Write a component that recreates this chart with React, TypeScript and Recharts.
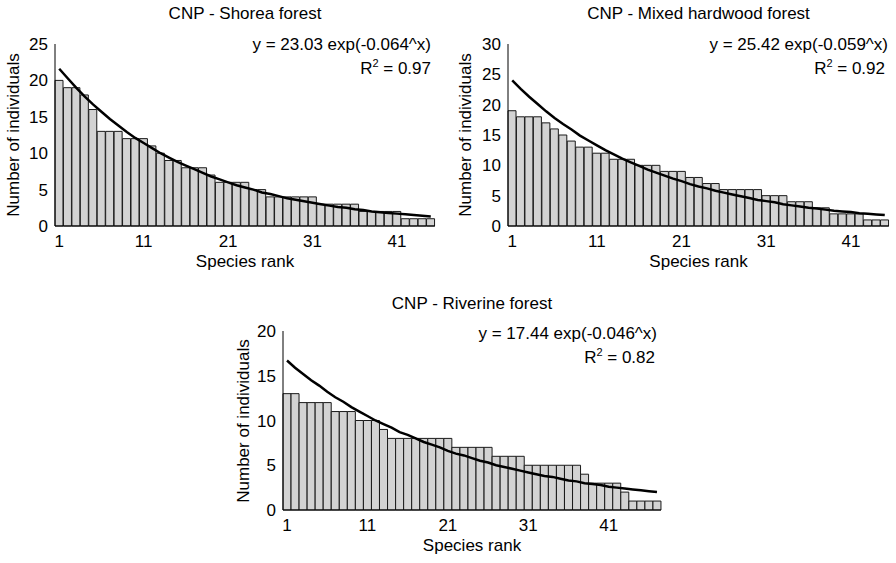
import React from "react";
import { ComposedChart, Bar, Line, XAxis, YAxis } from "recharts";

const ranks = [
  1, 2, 3, 4, 5, 6, 7, 8, 9, 10, 11, 12, 13, 14, 15, 16, 17, 18, 19, 20, 21, 22, 23, 24,
  25, 26, 27, 28, 29, 30, 31, 32, 33, 34, 35, 36, 37, 38, 39, 40, 41, 42, 43, 44, 45, 46, 47,
];
const rankTicks = [1, 11, 21, 31, 41];

const shoreaCounts = [
  20, 19, 19, 18, 16, 13, 13, 13, 12, 12, 12, 11, 10, 9, 9, 8, 8, 8, 7, 6, 6, 6, 6, 5, 5,
  4, 4, 4, 4, 4, 4, 3, 3, 3, 3, 3, 2, 2, 2, 2, 2, 1, 1, 1, 1,
];
const shoreaFit = [
  21.6, 20.3, 19.0, 17.8, 16.7, 15.7, 14.7, 13.8, 12.9, 12.1, 11.4, 10.7, 10.0, 9.4, 8.8,
  8.3, 7.8, 7.3, 6.8, 6.4, 6.0, 5.6, 5.3, 5.0, 4.6, 4.4, 4.1, 3.8, 3.6, 3.4, 3.2, 3.0, 2.8,
  2.6, 2.5, 2.3, 2.2, 2.0, 1.9, 1.8, 1.7, 1.6, 1.5, 1.4, 1.3,
];
const shoreaTicks = [0, 5, 10, 15, 20, 25];

const mixedCounts = [
  19, 18, 18, 18, 17, 16, 15, 14, 13, 13, 12, 12, 11, 11, 11, 10, 10, 10, 9, 9, 9, 8, 8, 7,
  7, 6, 6, 6, 6, 6, 5, 5, 5, 4, 4, 4, 3, 3, 2, 2, 2, 2, 1, 1, 1,
];
const mixedFit = [
  24.0, 22.6, 21.3, 20.1, 18.9, 17.8, 16.8, 15.9, 14.9, 14.1, 13.3, 12.5, 11.8, 11.1, 10.5,
  9.9, 9.3, 8.8, 8.3, 7.8, 7.4, 6.9, 6.5, 6.2, 5.8, 5.5, 5.2, 4.9, 4.6, 4.3, 4.1, 3.9, 3.6,
  3.4, 3.2, 3.0, 2.9, 2.7, 2.5, 2.4, 2.3, 2.1, 2.0, 1.9, 1.8,
];
const mixedTicks = [0, 5, 10, 15, 20, 25, 30];

const riverineCounts = [
  13, 13, 12, 12, 12, 12, 11, 11, 11, 10, 10, 10, 9, 8, 8, 8, 8, 8, 8, 8, 8, 7, 7, 7, 7, 7,
  6, 6, 6, 6, 5, 5, 5, 5, 5, 5, 5, 4, 3, 3, 3, 3, 2, 1, 1, 1, 1,
];
const riverineFit = [
  16.7, 15.9, 15.2, 14.5, 13.9, 13.2, 12.6, 12.1, 11.5, 11.0, 10.5, 10.0, 9.6, 9.2, 8.7,
  8.4, 8.0, 7.6, 7.3, 7.0, 6.6, 6.3, 6.1, 5.8, 5.5, 5.3, 5.0, 4.8, 4.6, 4.4, 4.2, 4.0, 3.8,
  3.7, 3.5, 3.3, 3.2, 3.0, 2.9, 2.8, 2.6, 2.5, 2.4, 2.3, 2.2, 2.1, 2.0,
];
const riverineTicks = [0, 5, 10, 15, 20];

const FONT = '"Liberation Sans", Arial, Helvetica, sans-serif';
const tickStyle = { fontSize: 17, fill: "#000" };

type Plot = { x0: number; x1: number; y0: number; y1: number };

function buildRows(counts: number[], fit: number[]) {
  return counts.map((c, i) => ({ rank: ranks[i], count: c, fit: fit[i] }));
}

function Txt(props: { x: number; y: number; w: number; align: "left" | "center" | "right"; children: React.ReactNode }) {
  const left = props.align === "right" ? props.x - props.w : props.align === "center" ? props.x - props.w / 2 : props.x;
  return (
    <div
      style={{
        position: "absolute",
        left,
        top: props.y - 10,
        width: props.w,
        height: 20,
        lineHeight: "20px",
        fontSize: 17,
        textAlign: props.align,
        whiteSpace: "nowrap",
      }}
    >
      {props.children}
    </div>
  );
}

function Panel(props: {
  counts: number[];
  fit: number[];
  yTicks: number[];
  plot: Plot;
  title: string;
  titleY: number;
  equation: string;
  r2: string;
  eqRight: number;
  r2Right: number;
  eqY: number;
  r2Y: number;
  yLabelX: number;
}) {
  const { plot } = props;
  const left = plot.x0 - 60;
  const top = plot.y0 - 45;
  const width = plot.x1 + 10 - left;
  const height = plot.y1 + 50 - top;
  const rows = buildRows(props.counts, props.fit);
  const yMax = props.yTicks[props.yTicks.length - 1];
  const cx = (plot.x0 + plot.x1) / 2;
  const cy = (plot.y0 + plot.y1) / 2;

  return (
    <>
      <div style={{ position: "absolute", left, top }}>
        <ComposedChart
          width={width}
          height={height}
          data={rows}
          margin={{ top: 45, right: 10, left: 20, bottom: 20 }}
          barCategoryGap={0}
          barGap={0}
        >
          <XAxis
            dataKey="rank"
            ticks={rankTicks}
            interval={0}
            tickLine={false}
            tickSize={6}
            tickMargin={3}
            height={30}
            tick={tickStyle}
            axisLine={{ stroke: "#000", strokeWidth: 1 }}
          />
          <YAxis
            type="number"
            domain={[0, yMax]}
            ticks={props.yTicks}
            width={40}
            tickLine={false}
            tickSize={6}
            tickMargin={1}
            tick={tickStyle}
            axisLine={{ stroke: "#000", strokeWidth: 1 }}
          />
          <Bar dataKey="count" fill="#d3d3d3" stroke="#1a1a1a" strokeWidth={1} isAnimationActive={false} />
          <Line
            type="linear"
            dataKey="fit"
            stroke="#000"
            strokeWidth={2.5}
            dot={false}
            isAnimationActive={false}
          />
        </ComposedChart>
      </div>
      <Txt x={cx} y={props.titleY} w={300} align="center">
        {props.title}
      </Txt>
      <Txt x={props.eqRight} y={props.eqY} w={260} align="right">
        {props.equation}
      </Txt>
      <Txt x={props.r2Right} y={props.r2Y} w={160} align="right">
        R<span style={{ fontSize: 11, position: "relative", top: -7 }}>2</span> = {props.r2}
      </Txt>
      <Txt x={cx} y={plot.y1 + 36} w={200} align="center">
        Species rank
      </Txt>
      <div
        style={{
          position: "absolute",
          left: props.yLabelX - 110,
          top: cy - 10,
          width: 220,
          height: 20,
          lineHeight: "20px",
          fontSize: 17,
          textAlign: "center",
          whiteSpace: "nowrap",
          transform: "rotate(-90deg)",
        }}
      >
        Number of individuals
      </div>
    </>
  );
}

export default function App() {
  return (
    <div
      style={{
        position: "absolute",
        left: 0,
        top: 0,
        width: 896,
        height: 563,
        background: "#fff",
        fontFamily: FONT,
        color: "#000",
        overflow: "hidden",
      }}
    >
      <Panel
        counts={shoreaCounts}
        fit={shoreaFit}
        yTicks={shoreaTicks}
        plot={{ x0: 55, x1: 435, y0: 44, y1: 226 }}
        title="CNP - Shorea forest"
        titleY={14}
        equation="y = 23.03 exp(-0.064^x)"
        r2="0.97"
        eqRight={431}
        r2Right={431}
        eqY={45}
        r2Y={69}
        yLabelX={14}
      />
      <Panel
        counts={mixedCounts}
        fit={mixedFit}
        yTicks={mixedTicks}
        plot={{ x0: 508, x1: 889, y0: 44, y1: 226 }}
        title="CNP - Mixed hardwood forest"
        titleY={14}
        equation="y = 25.42 exp(-0.059^x)"
        r2="0.92"
        eqRight={888}
        r2Right={885}
        eqY={45}
        r2Y={69}
        yLabelX={466}
      />
      <Panel
        counts={riverineCounts}
        fit={riverineFit}
        yTicks={riverineTicks}
        plot={{ x0: 283, x1: 661, y0: 331, y1: 510 }}
        title="CNP - Riverine forest"
        titleY={304}
        equation="y = 17.44 exp(-0.046^x)"
        r2="0.82"
        eqRight={657}
        r2Right={655}
        eqY={334}
        r2Y={358}
        yLabelX={244}
      />
    </div>
  );
}
